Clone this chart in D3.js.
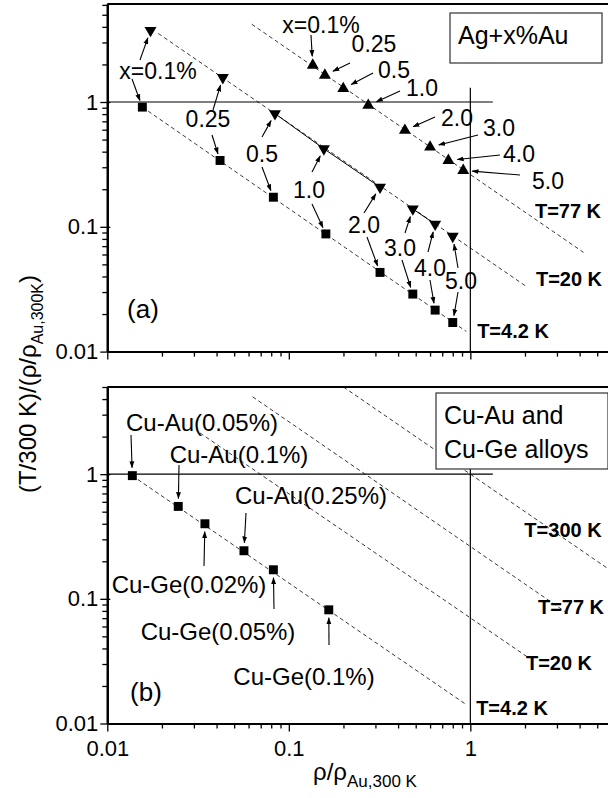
<!DOCTYPE html>
<html>
<head>
<meta charset="utf-8">
<script src="https://cdn.jsdelivr.net/npm/d3@7"></script>
<style>
  body { margin: 0; background: #fff; }
  svg { display: block; font-family: "Liberation Sans", Arial, sans-serif; }
</style>
</head>
<body>
<svg id="chart" width="608" height="798"></svg>
<script>
// ---- data ----
// panel (a): Ag + x% Au
const agAuConc = ["x=0.1%", "0.25", "0.5", "1.0", "2.0", "3.0", "4.0", "5.0"];
const t77X = [0.1355, 0.158, 0.1995, 0.274, 0.436, 0.600, 0.757, 0.914];
const t77Y = [1.97, 1.64, 1.28, 0.94, 0.592, 0.435, 0.34, 0.283];
const t20X = [0.0173, 0.0433, 0.0839, 0.156, 0.318, 0.482, 0.640, 0.80];
const t20Y = [3.75, 1.57, 0.807, 0.422, 0.208, 0.139, 0.105, 0.084];
const t42X = [0.0156, 0.0418, 0.0822, 0.160, 0.318, 0.482, 0.640, 0.80];
const t42Y = [0.91, 0.340, 0.1726, 0.0877, 0.0431, 0.0289, 0.0215, 0.0171];

// panel (b): Cu-Au and Cu-Ge alloys at 4.2 K
const cuAlloys = ["Cu-Au(0.05%)", "Cu-Au(0.1%)", "Cu-Ge(0.02%)", "Cu-Au(0.25%)", "Cu-Ge(0.05%)", "Cu-Ge(0.1%)"];
const cuX = [0.01374, 0.0246, 0.0345, 0.0566, 0.0822, 0.166];
const cuY = [0.973, 0.551, 0.40, 0.243, 0.171, 0.0816];

// constant-temperature guide lines (end points)
const guideA = [
  { name: "T=77 K", pts: [[0.0625, 4.2], [4.2, 0.0624]] },
  { name: "T=20 K", pts: [[0.0191, 3.54], [2.05, 0.033]] },
  { name: "T=4.2 K", pts: [[0.0156, 0.91], [0.95, 0.0145]] }
];
const guideB = [
  { name: "T=300 K", pts: [[0.2, 5], [6.5, 0.154]] },
  { name: "T=77 K", pts: [[0.0632, 4.17], [3.5, 0.075]] },
  { name: "T=20 K", pts: [[0.0324, 2.14], [2.05, 0.0344]] },
  { name: "T=4.2 K", pts: [[0.0137, 0.973], [0.955, 0.0141]] }
];
const xMajor = [0.01, 0.1, 1];
const yMajor = [0.01, 0.1, 1];

// ---- layout ----
const svg = d3.select("#chart");
const x = d3.scaleLog().domain([0.01, 6.5]).range([107.3, 617.9]);
const yA = d3.scaleLog().domain([0.01, 6.1]).range([351.6, 4]);
const yB = d3.scaleLog().domain([0.01, 5]).range([723.5, 387]);

const fmt = d => (d >= 1 ? d3.format("d")(d) : String(d));

function drawAxes(g, y, withLabels) {
  const minorY = y.ticks().filter(v => !yMajor.includes(v));
  const minorX = x.ticks().filter(v => !xMajor.includes(v));
  const y0 = y.range()[0], yTop = y.range()[1];

  // y axis
  g.append("g").attr("transform", `translate(${x.range()[0]},0)`)
    .call(d3.axisLeft(y).tickValues(yMajor).tickSizeInner(7).tickSizeOuter(0).tickPadding(2).tickFormat(fmt));
  g.append("g").attr("transform", `translate(${x.range()[0]},0)`)
    .call(d3.axisLeft(y).tickValues(minorY).tickSizeInner(5).tickSizeOuter(0).tickFormat(""));
  g.append("g").attr("transform", `translate(${x.range()[0]},0)`)
    .call(d3.axisRight(y).tickValues(yMajor).tickSizeInner(3).tickSizeOuter(0).tickFormat(""));

  // x axis
  g.append("g").attr("transform", `translate(0,${y0})`)
    .call(d3.axisBottom(x).tickValues(xMajor).tickSizeInner(8).tickSizeOuter(0).tickPadding(9)
      .tickFormat(withLabels ? fmt : ""));
  g.append("g").attr("transform", `translate(0,${y0})`)
    .call(d3.axisBottom(x).tickValues(minorX).tickSizeInner(5).tickSizeOuter(0).tickFormat(""));

  g.selectAll(".domain").attr("stroke", "#000").attr("stroke-width", 2);
  g.selectAll(".tick line").attr("stroke", "#000").attr("stroke-width", 1.3);
  g.selectAll(".tick text").attr("font-size", 22).attr("fill", "#000");

  // top frame
  g.append("line").attr("x1", x.range()[0]).attr("x2", 608).attr("y1", yTop).attr("y2", yTop)
    .attr("stroke", "#000").attr("stroke-width", 2);
}

function drawRefLines(g, y) {
  const line = d3.line().x(d => x(d[0])).y(d => y(d[1]));
  g.append("path").attr("d", line([[0.01, 1], [1.33, 1]])).attr("stroke", "#000").attr("stroke-width", 1.2).attr("fill", "none");
  g.append("path").attr("d", line([[1, 1.3], [1, 0.01]])).attr("stroke", "#000").attr("stroke-width", 1.2).attr("fill", "none");
}

function drawGuides(g, y, guides, clipId) {
  const line = d3.line().x(d => x(d[0])).y(d => y(d[1]));
  g.append("g").attr("clip-path", `url(#${clipId})`)
    .selectAll("path").data(guides).join("path")
    .attr("d", d => line(d.pts))
    .attr("fill", "none").attr("stroke", "#222").attr("stroke-width", 0.9)
    .attr("stroke-dasharray", "4,3");
}

function drawMarkers(g, y, xs, ys, type) {
  const sym = d3.symbol().type(type === "square" ? d3.symbolSquare : d3.symbolTriangle)
    .size(type === "square" ? 80 : 62);
  g.selectAll(null).data(xs.map((v, i) => [v, ys[i]])).join("path")
    .attr("d", sym)
    .attr("transform", d => `translate(${x(d[0])},${y(d[1])})${type === "down" ? " rotate(180)" : ""}`)
    .attr("fill", "#000");
}

// arrow from a pixel tail toward a data point, stopping short of the marker
function arrow(g, tail, px, py, gap) {
  const dx = px - tail[0], dy = py - tail[1];
  const len = Math.hypot(dx, dy);
  const ex = px - dx / len * gap, ey = py - dy / len * gap;
  g.append("line").attr("x1", tail[0]).attr("y1", tail[1]).attr("x2", ex).attr("y2", ey)
    .attr("stroke", "#000").attr("stroke-width", 1.1).attr("marker-end", "url(#head)");
}

function label(g, txt, cx, cy, opts = {}) {
  g.append("text").attr("x", cx).attr("y", cy).attr("dy", "0.36em")
    .attr("text-anchor", opts.anchor || "middle")
    .attr("font-size", opts.size || 23)
    .attr("font-weight", opts.bold ? "bold" : "normal")
    .attr("fill", "#000").text(txt);
}

function legendBox(g, x0, y0, w, h, lines) {
  g.append("rect").attr("x", x0).attr("y", y0).attr("width", w).attr("height", h)
    .attr("fill", "#fff").attr("stroke", "#333").attr("stroke-width", 1.2);
  lines.forEach((t, i) => {
    g.append("text").attr("x", x0 + 8).attr("y", y0 + 31 + i * 34)
      .attr("font-size", 25).attr("fill", "#000").text(t);
  });
}

// ---- defs ----
const defs = svg.append("defs");
defs.append("marker").attr("id", "head").attr("viewBox", "0 0 10 10")
  .attr("refX", 9).attr("refY", 5).attr("markerWidth", 7).attr("markerHeight", 7)
  .attr("markerUnits", "userSpaceOnUse").attr("orient", "auto")
  .append("path").attr("d", "M0,1.5 L10,5 L0,8.5 Z").attr("fill", "#000");
defs.append("clipPath").attr("id", "clipA").append("rect")
  .attr("x", x.range()[0]).attr("y", yA.range()[1]).attr("width", 608 - x.range()[0]).attr("height", yA.range()[0] - yA.range()[1]);
defs.append("clipPath").attr("id", "clipB").append("rect")
  .attr("x", x.range()[0]).attr("y", yB.range()[1]).attr("width", 608 - x.range()[0]).attr("height", yB.range()[0] - yB.range()[1]);

// ---- panel (a) ----
const gA = svg.append("g");
drawGuides(gA, yA, guideA, "clipA");
// solid pieces joining the 20 K points
const solid = d3.line().x(d => x(d[0])).y(d => yA(d[1]));
[[2, 3, 4], [5, 6]].forEach(idx => {
  gA.append("path").attr("d", solid(idx.map(i => [t20X[i], t20Y[i]])))
    .attr("fill", "none").attr("stroke", "#000").attr("stroke-width", 1);
});
drawRefLines(gA, yA);
drawAxes(gA, yA, false);
drawMarkers(gA, yA, t42X, t42Y, "square");
drawMarkers(gA, yA, t20X, t20Y, "down");
drawMarkers(gA, yA, t77X, t77Y, "up");

// labels between 20 K and 4.2 K points: [centre, tail to triangle, tail to square]
const lowLabels = [
  [[158, 71], [140, 60], [132, 79]],
  [[208, 119], [213, 110], [212, 135]],
  [[262, 154], [262, 137], [262, 167]],
  [[309, 190], [312, 172], [312, 204]],
  [[364, 225], [364, 213], [367, 237]],
  [[400, 248], [405, 233], [402, 260]],
  [[430, 268], [428, 252], [430, 280]],
  [[461, 281], [458, 268], [458, 292]]
];
lowLabels.forEach((l, i) => {
  label(gA, agAuConc[i], l[0][0], l[0][1]);
  arrow(gA, l[1], x(t20X[i]), yA(t20Y[i]), 8);
  arrow(gA, l[2], x(t42X[i]), yA(t42Y[i]), 7);
});
// labels for the 77 K points: [centre, tail]
const highLabels = [
  [[321, 25], [311, 35]],
  [[374, 44], [350, 63]],
  [[394, 70], [373, 73]],
  [[422, 88], [400, 91]],
  [[457, 118], [435, 117]],
  [[499, 128], [478, 135]],
  [[519, 154], [500, 155]],
  [[548, 181], [520, 175]]
];
highLabels.forEach((l, i) => {
  label(gA, agAuConc[i], l[0][0], l[0][1]);
  arrow(gA, l[1], x(t77X[i]), yA(t77Y[i]), 9);
});
label(gA, "T=77 K", 568, 211, { size: 20, bold: true });
label(gA, "T=20 K", 569, 279, { size: 20, bold: true });
label(gA, "T=4.2 K", 513, 331, { size: 20, bold: true });
label(gA, "(a)", 143, 309, { size: 26 });
legendBox(gA, 450, 13, 152, 50, ["Ag+x%Au"]);

// ---- panel (b) ----
const gB = svg.append("g");
drawGuides(gB, yB, guideB, "clipB");
drawRefLines(gB, yB);
drawAxes(gB, yB, true);
drawMarkers(gB, yB, cuX, cuY, "square");
const cuLabels = [
  [[202, 422], [131, 435]],
  [[239, 454], [179, 465]],
  [[189, 584], [204, 566]],
  [[311, 495], [246, 513]],
  [[218, 631], [274, 609]],
  [[304, 676], [329, 645]]
];
cuLabels.forEach((l, i) => {
  label(gB, cuAlloys[i], l[0][0], l[0][1], { size: 24 });
  arrow(gB, l[1], x(cuX[i]), yB(cuY[i]), 8);
});
label(gB, "T=300 K", 563, 530, { size: 20, bold: true });
label(gB, "T=77 K", 571, 607, { size: 20, bold: true });
label(gB, "T=20 K", 559, 663, { size: 20, bold: true });
label(gB, "T=4.2 K", 512, 708, { size: 20, bold: true });
label(gB, "(b)", 146, 692, { size: 26 });
legendBox(gB, 436, 393, 172, 76, ["Cu-Au and", "Cu-Ge alloys"]);

// ---- axis titles ----
const yt = svg.append("text").attr("transform", "translate(36,384) rotate(-90)")
  .attr("text-anchor", "middle").attr("font-size", 24).attr("fill", "#000");
yt.append("tspan").text("(T/300 K)/(ρ/ρ");
yt.append("tspan").attr("font-size", 16).attr("dy", 7).text("Au,300K");
yt.append("tspan").attr("dy", -7).text(")");

const xt = svg.append("text").attr("x", 365).attr("y", 780)
  .attr("text-anchor", "middle").attr("font-size", 24).attr("fill", "#000");
xt.append("tspan").text("ρ/ρ");
xt.append("tspan").attr("font-size", 17).attr("dy", 7).text("Au,300 K");
</script>
</body>
</html>
